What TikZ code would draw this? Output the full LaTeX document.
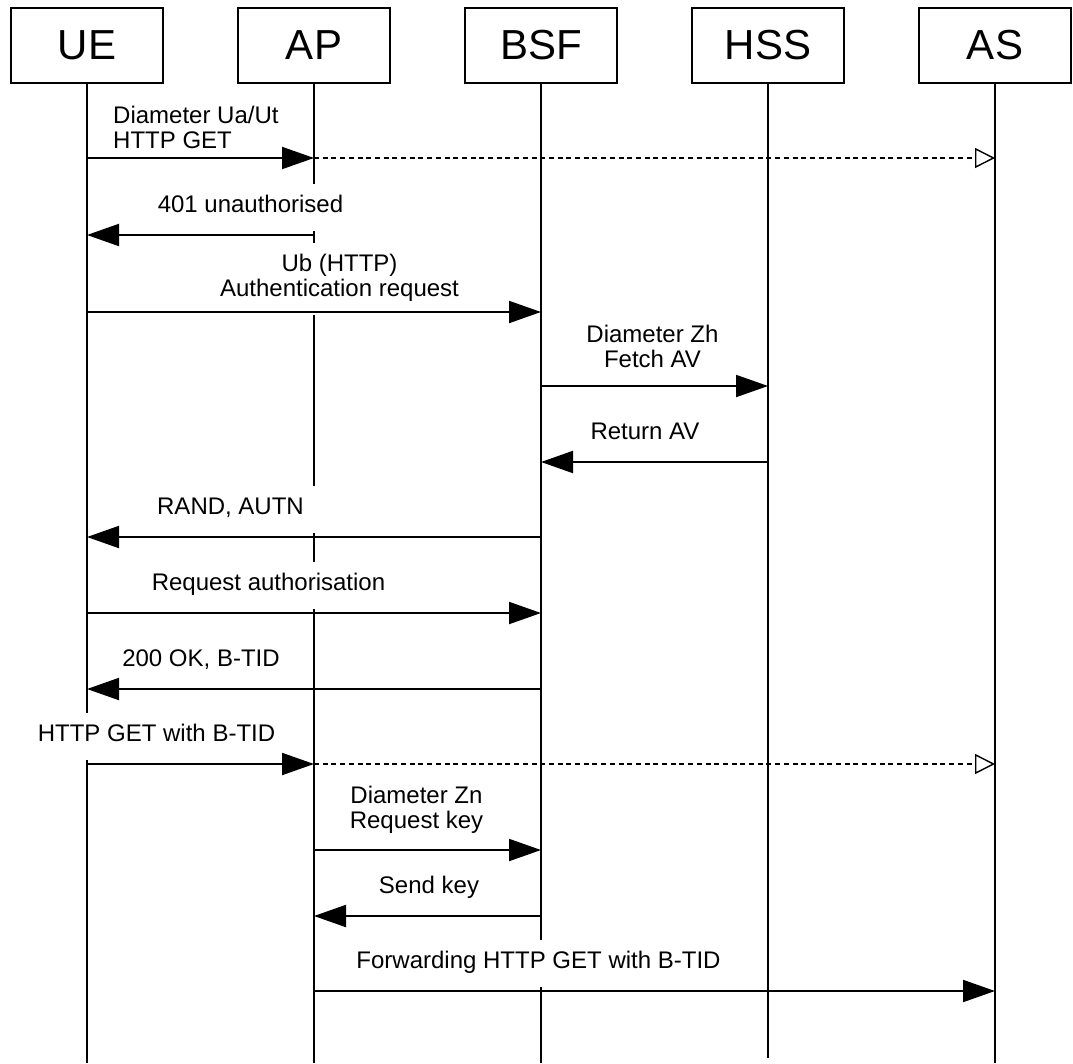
\documentclass[tikz,border=0pt]{standalone}
\usepackage{fontspec}
\setmainfont{Liberation Sans}
\usetikzlibrary{arrows.meta}
\begin{document}
\begin{tikzpicture}[x=1pt,y=-1pt,
  entity/.style={draw, line width=2pt, minimum width=152pt, minimum height=75pt,
    inner sep=0pt, font=\fontsize{42}{46}\selectfont},
  life/.style={line width=2pt},
  lbl/.style={fill=white, inner xsep=14pt, inner ysep=11pt, align=center,
    font=\fontsize{24}{25}\selectfont},
  msg/.style={line width=2pt, -{Triangle[length=32pt,width=22pt]}},
  relay/.style={line width=2pt, dash pattern=on 5pt off 3.7pt,
    -{Triangle[open,length=20pt,width=20pt,line width=1.4pt]}}
]
\useasboundingbox (0,0) rectangle (1073,1063);

% participants
\node[entity] (ue)  at (87,45.5)  {UE};
\node[entity] (ap)  at (314,45.5) {AP};
\node[entity] (bsf) at (541,45.5) {BSF};
\node[entity] (hss) at (768,45.5) {HSS};
\node[entity] (as)  at (995,45.5) {AS};

% lifelines
\coordinate (ueEnd)  at (87,1063);
\coordinate (apEnd)  at (314,1063);
\coordinate (bsfEnd) at (541,1063);
\coordinate (hssEnd) at (768,1058);
\coordinate (asEnd)  at (995,1063);
\draw[life] (ue.south)  -- (ueEnd);
\draw[life] (ap.south)  -- (apEnd);
\draw[life] (bsf.south) -- (bsfEnd);
\draw[life] (hss.south) -- (hssEnd);
\draw[life] (as.south)  -- (asEnd);

% message labels (white backgrounds interrupt the lifelines)
\node[lbl, anchor=west, align=left] (l1) at (99,130.5) {\strut Diameter Ua/Ut\\HTTP GET\strut};
\node[lbl] (l2)  at (250.5,207) {\strut 401 unauthorised};
\node[lbl] (l3)  at (339.5,278.5) {\strut Ub (HTTP)\\Authentication request\strut};
\node[lbl] (l4)  at (652.5,349.5) {\strut Diameter Zh\\Fetch AV\strut};
\node[lbl] (l5)  at (645,434) {\strut Return AV};
\node[lbl] (l6)  at (230.5,509) {\strut RAND, AUTN};
\node[lbl] (l7)  at (268.5,585) {\strut Request authorisation};
\node[lbl] (l8)  at (201,661) {\strut 200 OK, B-TID};
\node[lbl] (l9)  at (156.5,736) {\strut HTTP GET with B-TID};
\node[lbl] (l10) at (416.5,810.5) {\strut Diameter Zn\\Request key\strut};
\node[lbl] (l11) at (429,888) {\strut Send key};
\node[lbl] (l12) at (538.5,963) {\strut Forwarding HTTP GET with B-TID};

% message end points on the lifelines
\path (ue |- 0,158) coordinate (m1a) (ap |- 0,158) coordinate (m1b) (as |- 0,158) coordinate (m1c);
\path (ap |- 0,235) coordinate (m2a) (ue |- 0,235) coordinate (m2b);
\path (ue |- 0,312) coordinate (m3a) (bsf |- 0,312) coordinate (m3b);
\path (bsf |- 0,386) coordinate (m4a) (hss |- 0,386) coordinate (m4b);
\path (hss |- 0,462) coordinate (m5a) (bsf |- 0,462) coordinate (m5b);
\path (bsf |- 0,537) coordinate (m6a) (ue |- 0,537) coordinate (m6b);
\path (ue |- 0,613) coordinate (m7a) (bsf |- 0,613) coordinate (m7b);
\path (bsf |- 0,689) coordinate (m8a) (ue |- 0,689) coordinate (m8b);
\path (ue |- 0,764) coordinate (m9a) (ap |- 0,764) coordinate (m9b) (as |- 0,764) coordinate (m9c);
\path (ap |- 0,850) coordinate (m10a) (bsf |- 0,850) coordinate (m10b);
\path (bsf |- 0,916) coordinate (m11a) (ap |- 0,916) coordinate (m11b);
\path (ap |- 0,991) coordinate (m12a) (as |- 0,991) coordinate (m12b);

% messages
\draw[msg] (m1a) -- (m1b);
\draw[relay] (m1b) -- (m1c);
\draw[msg] (m2a) -- (m2b);
\draw[msg] (m3a) -- (m3b);
\draw[msg] (m4a) -- (m4b);
\draw[msg] (m5a) -- (m5b);
\draw[msg] (m6a) -- (m6b);
\draw[msg] (m7a) -- (m7b);
\draw[msg] (m8a) -- (m8b);
\draw[msg] (m9a) -- (m9b);
\draw[relay] (m9b) -- (m9c);
\draw[msg] (m10a) -- (m10b);
\draw[msg] (m11a) -- (m11b);
\draw[msg] (m12a) -- (m12b);
\end{tikzpicture}
\end{document}
